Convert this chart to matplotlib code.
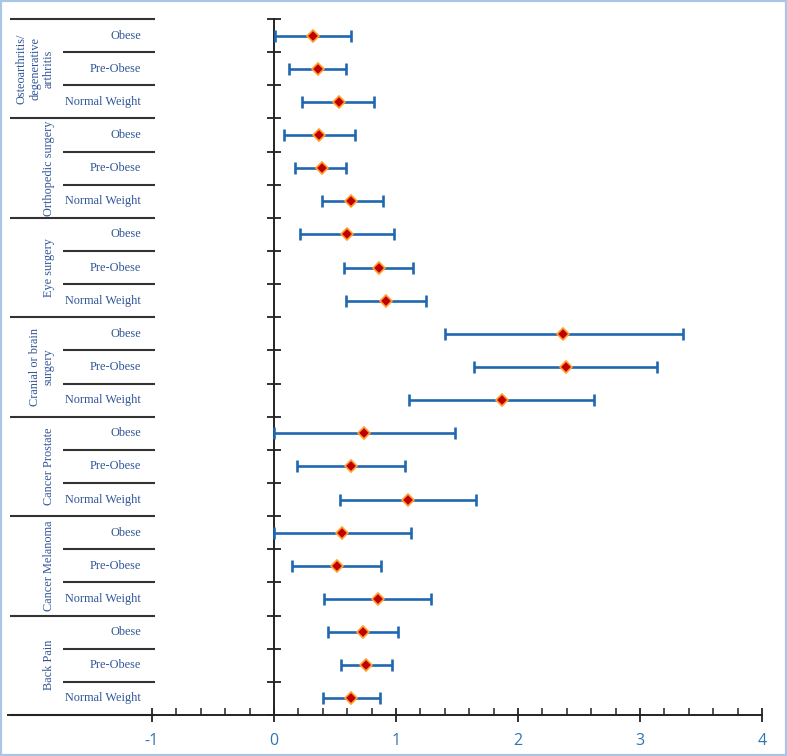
import matplotlib
matplotlib.use('Agg')
import matplotlib.pyplot as plt
import matplotlib.transforms as mtransforms
from matplotlib.patches import Rectangle
import numpy as np

plt.rcParams['axes.unicode_minus'] = False

groups = ["Osteoarthritis/\ndegenerative\narthritis", "Orthopedic surgery", "Eye surgery",
          "Cranial or brain\nsurgery", "Cancer Prostate", "Cancer Melanoma", "Back Pain"]
categories = ["Obese", "Pre-Obese", "Normal Weight"]

# one value per row, top to bottom (group x category)
estimate = [0.32, 0.36, 0.53,
            0.37, 0.39, 0.63,
            0.60, 0.86, 0.92,
            2.37, 2.39, 1.87,
            0.74, 0.63, 1.10,
            0.56, 0.52, 0.85,
            0.73, 0.755, 0.63]
lower = [0.01, 0.12, 0.23,
         0.08, 0.17, 0.39,
         0.215, 0.57, 0.59,
         1.40, 1.64, 1.11,
         0.00, 0.19, 0.54,
         0.00, 0.15, 0.41,
         0.44, 0.55, 0.40]
upper = [0.63, 0.59, 0.82,
         0.665, 0.59, 0.89,
         0.985, 1.14, 1.25,
         3.35, 3.14, 2.62,
         1.48, 1.07, 1.655,
         1.12, 0.88, 1.29,
         1.02, 0.97, 0.87]
xticks_major = [-1, 0, 1, 2, 3, 4]

W, H = 787, 756
fig = plt.figure(figsize=(W / 100, H / 100), dpi=100)
ax_left, ax_right, ax_top, ax_bottom = 8, 762, 19, 715
ax = fig.add_axes([ax_left / W, 1 - ax_bottom / H, (ax_right - ax_left) / W, (ax_bottom - ax_top) / H])

n = len(estimate)
est = np.array(estimate)
lo = np.array(lower)
hi = np.array(upper)
ypos = np.arange(n) + 0.5

err_col = '#1F67B1'
ax.errorbar(est, ypos, xerr=[est - lo, hi - est], fmt='none', ecolor=err_col,
            elinewidth=1.9, capsize=4, capthick=1.9, zorder=3, clip_on=False)
ax.plot(est, ypos, 'D', markersize=6, markerfacecolor='#C00000',
        markeredgecolor='#FFA030', markeredgewidth=1.2, zorder=4, linestyle='none', clip_on=False)

px_per_unit = (ax_right - 152) / 5.0
xmin = -1 - (152 - ax_left) / px_per_unit
ax.set_xlim(xmin, 4)
ax.set_ylim(n, 0)

for s in ['top', 'right']:
    ax.spines[s].set_visible(False)
ax.spines['left'].set_position(('data', 0))
ax.spines['left'].set_linewidth(1.4)
ax.spines['bottom'].set_linewidth(1.4)
ax.spines['left'].set_color('#222222')
ax.spines['bottom'].set_color('#222222')

ax.set_yticks(np.arange(n + 1))
ax.tick_params(axis='y', direction='inout', length=10, width=1.3, color='#222222', labelleft=False)
ax.set_xticks(xticks_major)
ax.set_xticks([v / 5 for v in range(-5, 21) if v % 5 != 0], minor=True)
ax.tick_params(axis='x', which='major', direction='inout', length=10, width=1.3, color='#222222',
               labelsize=11.5, labelcolor='#2E75B6', pad=8)
ax.tick_params(axis='x', which='minor', direction='in', length=5, width=1.1, color='#222222')
for lab in ax.get_xticklabels():
    lab.set_fontfamily(['Open Sans', 'DejaVu Sans'])

# left table
trans = mtransforms.blended_transform_factory(ax.transAxes, ax.transData)
span = ax_right - ax_left
xa0 = (10 - ax_left) / span
xa1 = (155 - ax_left) / span
xsub = (63 - ax_left) / span
for b in range(n + 1):
    x0 = xa0 if b % 3 == 0 else xsub
    ax.plot([x0, xa1], [b, b], color='#333333', linewidth=1.5, transform=trans, clip_on=False,
            solid_capstyle='butt')

txt_col = '#2F5597'
serif = ['Liberation Serif', 'DejaVu Serif']
xlab = (141 - ax_left) / span
for i in range(n):
    ax.text(xlab, ypos[i], categories[i % 3], transform=trans, ha='right', va='center',
            fontsize=8.8, color=txt_col, family=serif)

xg = (55 - ax_left) / span
for g, name in enumerate(groups):
    ax.text(xg, 3 * g + 1.5, name, transform=trans, ha='right', va='center', rotation=90,
            multialignment='center', linespacing=1.2, fontsize=8.8, color=txt_col, family=serif)

fig.patches.append(Rectangle((0, 0), 1, 1, transform=fig.transFigure, fill=False,
                             edgecolor='#A9C5E8', linewidth=3))

fig.savefig('out.png', dpi=100)
